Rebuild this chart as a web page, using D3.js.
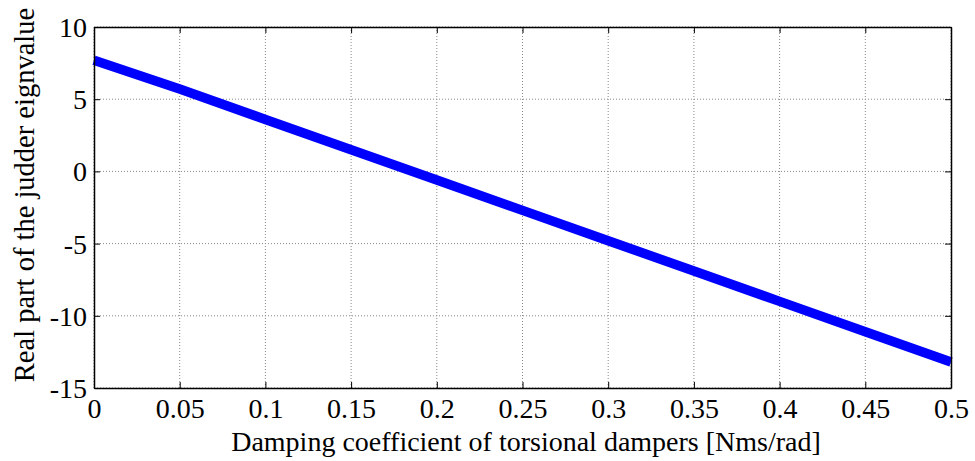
<!DOCTYPE html>
<html>
<head>
    <meta charset="utf-8">
    <title>Judder eigenvalue</title>
    <script src="https://d3js.org/d3.v7.min.js"></script>
    <style>
        body { margin: 0; background: #fff; }
    </style>
</head>
<body>
<div id="chart"></div>
<script>
    // data
    const damping = [0, 0.05, 0.1, 0.15, 0.2, 0.25, 0.3, 0.35, 0.4, 0.45, 0.5];
    const realPart = [7.7, 5.7, 3.6, 1.5, -0.6, -2.7, -4.8, -6.9, -9.0, -11.1, -13.2];
    const xTicks = [0, 0.05, 0.1, 0.15, 0.2, 0.25, 0.3, 0.35, 0.4, 0.45, 0.5];
    const yTicks = [-15, -10, -5, 0, 5, 10];

    const FONT = "'Liberation Serif', 'Times New Roman', 'DejaVu Serif', serif";
    const W = 975, H = 461;
    const margin = { top: 27, right: 24, bottom: 73, left: 94 };
    const width = W - margin.left - margin.right;
    const height = H - margin.top - margin.bottom;

    const svg = d3.select("#chart").append("svg")
        .attr("width", W).attr("height", H)
        .style("font-family", FONT);
    const g = svg.append("g")
        .attr("transform", "translate(" + margin.left + "," + margin.top + ")");

    const x = d3.scaleLinear().domain([0, 0.5]).range([0, width]);
    const y = d3.scaleLinear().domain([-15, 10]).range([height, 0]);

    // grid
    g.selectAll(".vgrid").data(xTicks).enter().append("line")
        .attr("x1", d => x(d)).attr("x2", d => x(d))
        .attr("y1", 0).attr("y2", height)
        .attr("stroke", "#888").attr("stroke-width", 1)
        .attr("stroke-dasharray", "1,2");
    g.selectAll(".hgrid").data(yTicks).enter().append("line")
        .attr("x1", 0).attr("x2", width)
        .attr("y1", d => y(d)).attr("y2", d => y(d))
        .attr("stroke", "#888").attr("stroke-width", 1)
        .attr("stroke-dasharray", "1,2");

    // the line
    g.append("path")
        .datum(damping.map((d, i) => [d, realPart[i]]))
        .attr("fill", "none")
        .attr("stroke", "#0000ff")
        .attr("stroke-width", 9.5)
        .attr("d", d3.line().x(d => x(d[0])).y(d => y(d[1])));

    // axes, ticks inward
    const fmt = d => d === 0 ? "0" : String(d);
    const xAxis = g.append("g").attr("transform", "translate(0," + height + ")")
        .call(d3.axisBottom(x).tickValues(xTicks).tickFormat(fmt).tickSizeInner(-6).tickSizeOuter(0));
    const xTop = g.append("g")
        .call(d3.axisTop(x).tickValues(xTicks).tickFormat("").tickSizeInner(-6).tickSizeOuter(0));
    const yAxis = g.append("g")
        .call(d3.axisLeft(y).tickValues(yTicks).tickFormat(fmt).tickSizeInner(-6).tickSizeOuter(0));
    const yRight = g.append("g").attr("transform", "translate(" + width + ",0)")
        .call(d3.axisRight(y).tickValues(yTicks).tickFormat("").tickSizeInner(-6).tickSizeOuter(0));

    [xAxis, xTop, yAxis, yRight].forEach(a => {
        a.attr("font-family", null).attr("font-size", null);
        a.selectAll("path").attr("stroke", "#000").attr("stroke-width", 1.5);
        a.selectAll("line").attr("stroke", "#000");
        a.selectAll("text").style("font-size", "28px").style("font-family", FONT).attr("fill", "#000");
    });
    xAxis.selectAll("text").attr("y", 30).attr("dy", 0);
    yAxis.selectAll("text").attr("x", -7).attr("dy", "0.34em");

    // axis titles
    svg.append("text")
        .attr("x", 526).attr("y", 451)
        .attr("text-anchor", "middle")
        .style("font-size", "28px").style("font-family", FONT)
        .text("Damping coefficient of torsional dampers [Nms/rad]");
    svg.append("text")
        .attr("transform", "translate(34,195) rotate(-90)")
        .attr("text-anchor", "middle")
        .style("font-size", "28.5px").style("font-family", FONT)
        .text("Real part of the judder eignvalue");
</script>
</body>
</html>
